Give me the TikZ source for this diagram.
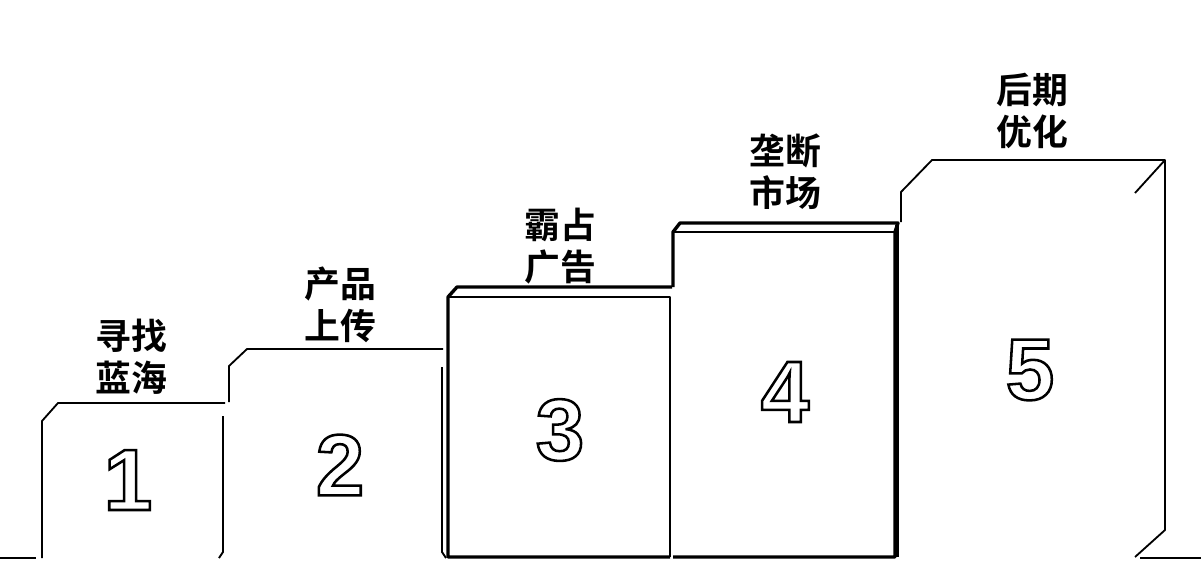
\documentclass[tikz,border=0pt]{standalone}
\usepackage{fontspec}
\newfontfamily\cjk{Noto Sans CJK SC}[BoldFont={* Bold}]
\newfontfamily\digitfont{Liberation Sans}
\newcommand{\hollow}[1]{\special{pdf:literal direct 1 Tr 1.8 w}#1\special{pdf:literal direct 0 Tr 0.4 w}}

\begin{document}
\begin{tikzpicture}[x=0.025cm,y=-0.025cm]

  % node styles
  \tikzstyle{Label}=[font=\cjk\bfseries\fontsize{25.5}{30}\selectfont,
    align=center,inner sep=0pt]
  \tikzstyle{Digit}=[font=\digitfont\bfseries\fontsize{62}{62}\selectfont,inner sep=0pt]
  \tikzstyle{Thin}=[line width=1.3pt,line join=round]
  \tikzstyle{Thick}=[line width=2.4pt,line join=round]

  \useasboundingbox (0,0) rectangle (1201,562);

  % step 1
  \draw[Thin] (225,403) -- (58,403) -- (42,421) -- (42,558);
  \draw[Thin] (223,416) -- (223,552) -- (219,558);
  % step 2
  \draw[Thin] (443,349) -- (247,349) -- (229,366) -- (229,402);
  \draw[Thin] (442,367) -- (442,552) -- (446,558);
  % step 3
  \draw[Thick] (672,287) -- (457,287) -- (448,297) -- (448,557) -- (670,557);
  \draw[Thin] (448,297) -- (670,297) -- (670,557);
  % step 4
  \draw[Thick] (673,287) -- (673,232) -- (680,223) -- (898,223) -- (895,232)
    -- (895,557) -- (673,557);
  \draw[Thin] (673,232) -- (895,232);
  % step 5
  \draw[Thin] (901,222) -- (901,192) -- (932,160) -- (1165,160) -- (1165,530)
    -- (1135,557);
  \draw[Thin] (1165,160) -- (1135,193);
  \draw[Thick] (897,225) -- (897,557);
  % ground
  \draw[Thin] (0,558) -- (36,558);
  \draw[Thin] (1140,558) -- (1201,558);

  % labels
  \node[Label] (L1) at (131,357) {寻找\\蓝海};
  \node[Label] (L2) at (340,305) {产品\\上传};
  \node[Label] (L3) at (560,246) {霸占\\广告};
  \node[Label] (L4) at (785,172) {垄断\\市场};
  \node[Label] (L5) at (1032,111) {后期\\优化};

  % digits
  \node[Digit] (D1) at (128,480) {\hollow{1}};
  \node[Digit] (D2) at (340,465) {\hollow{2}};
  \node[Digit] (D3) at (560,430) {\hollow{3}};
  \node[Digit] (D4) at (785,392) {\hollow{4}};
  \node[Digit] (D5) at (1030,370) {\hollow{5}};

\end{tikzpicture}
\end{document}
